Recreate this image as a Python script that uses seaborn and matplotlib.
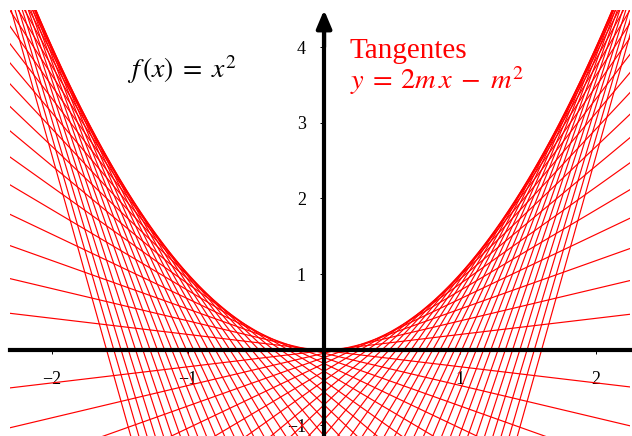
import numpy as np
import pandas as pd
import matplotlib
matplotlib.use("Agg")
import matplotlib.pyplot as plt
import seaborn as sns

# Tangent parameters m (61 tangents, symmetric about 0, from -3.2 to 3.2)
m_positive = [0.1067, 0.2133, 0.32, 0.4267, 0.5333, 0.64, 0.7467, 0.8533, 0.96, 1.0667,
              1.1733, 1.28, 1.3867, 1.4933, 1.6, 1.7067, 1.8133, 1.92, 2.0267, 2.1333,
              2.24, 2.3467, 2.4533, 2.56, 2.6667, 2.7733, 2.88, 2.9867, 3.0933, 3.2]
m_values = [-m for m in reversed(m_positive)] + [0.0] + m_positive
x_ends = [-3.0, 3.0]
x_ticks = [-2, -1, 1, 2]
x_ticklabels = ["\u22122", "\u22121", "1", "2"]
y_ticks = [-1, 1, 2, 3, 4]
y_ticklabels = ["\u22121", "1", "2", "3", "4"]
x_range = (-2.31, 2.25)
y_range = (-1.14, 4.49)

rows = []
for m in m_values:
    for x in x_ends:
        rows.append({"m": m, "x": x, "y": 2 * m * x - m * m})
df = pd.DataFrame(rows)

sns.set_theme(style="white")
plt.rcParams["font.family"] = ["Liberation Serif", "DejaVu Serif"]
plt.rcParams["mathtext.fontset"] = "stix"

fig = plt.figure(figsize=(6.32, 4.36), dpi=100)
ax = fig.add_axes([10 / 632, 0, 620 / 632, 426 / 436])

sns.lineplot(data=df, x="x", y="y", units="m", estimator=None,
             color="#ff0000", linewidth=0.85, ax=ax, legend=False)

ax.set_xlim(*x_range)
ax.set_ylim(*y_range)
ax.set_xlabel("")
ax.set_ylabel("")

for s in ["top", "right"]:
    ax.spines[s].set_visible(False)
ax.spines["left"].set_position(("data", 0))
ax.spines["bottom"].set_position(("data", 0))
for s in ["left", "bottom"]:
    ax.spines[s].set_color("black")
    ax.spines[s].set_linewidth(3.0)
    ax.spines[s].set_zorder(5)
ax.spines["left"].set_bounds(y_range[0], 4.3)

ax.annotate("", xy=(0, y_range[1]), xytext=(0, 4.0),
            arrowprops=dict(arrowstyle="-|>,head_length=0.9,head_width=0.38",
                            color="black", lw=3.0, shrinkA=0, shrinkB=0),
            annotation_clip=False, zorder=6)

ax.set_xticks(x_ticks)
ax.set_yticks(y_ticks)
ax.set_xticklabels(x_ticklabels)
ax.set_yticklabels(y_ticklabels)
ax.tick_params(axis="x", direction="out", length=3, width=0.7, pad=12,
               labelsize=13, colors="black", bottom=True)
ax.tick_params(axis="y", direction="out", length=3, width=0.7, pad=10,
               labelsize=13, colors="black", left=True)
ax.grid(False)
ax.set_facecolor("white")

fig.text(127 / 632, 1 - 78 / 436, r"$f\,(x)\;=\;x^2$", fontsize=20,
         color="black", ha="left", va="baseline")
fig.text(350 / 632, 1 - 58 / 436, "Tangentes",
         fontsize=21, color="#ff0000", ha="left", va="baseline")
fig.text(350 / 632, 1 - 89 / 436, r"$y\:=\:2m\,x\;-\;m^2$",
         fontsize=20.5, color="#ff0000", ha="left", va="baseline")

fig.savefig("out.png", dpi=100)
